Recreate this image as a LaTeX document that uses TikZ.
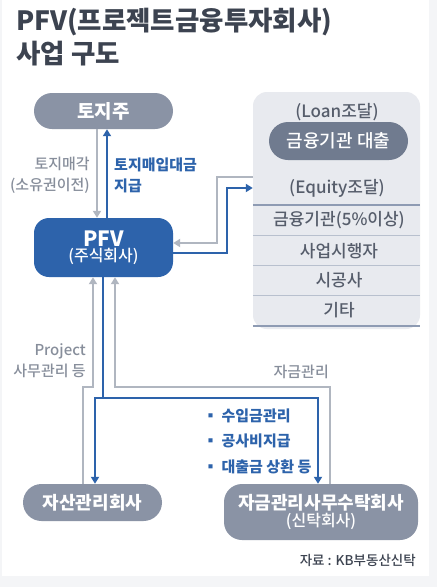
\documentclass[tikz,border=0pt]{standalone}
\usepackage{fontspec}
\setmainfont{Noto Sans CJK KR}
\newfontfamily\med{Noto Sans CJK KR Medium}
\usetikzlibrary{arrows.meta}
\definecolor{titlec}{HTML}{3C4350}
\definecolor{nodegray}{HTML}{8A93A5}
\definecolor{pfvblue}{HTML}{2D63AB}
\definecolor{linegray}{HTML}{B0B6C0}
\definecolor{panelfill}{HTML}{E8EAEF}
\definecolor{pilldark}{HTML}{707B8F}
\definecolor{paneltext}{HTML}{565D6B}
\definecolor{panelline}{HTML}{8E9BB3}
\definecolor{panelthin}{HTML}{B8C0CE}
\definecolor{labelgray}{HTML}{878E9B}
\definecolor{bgc}{HTML}{F4F5F7}
\tikzset{
  pill/.style={fill=nodegray, text=white, font=\bfseries\fontsize{18}{22}\selectfont, inner sep=0pt, align=center},
  grayarrow/.style={draw=linegray, line width=2.3pt, -{Triangle[length=7pt,width=8pt]}},
  bluearrow/.style={draw=pfvblue, line width=2.3pt, -{Triangle[length=7pt,width=8pt]}},
  blueline/.style={draw=pfvblue, line width=2.3pt},
  ptext/.style={text=paneltext, font=\med\fontsize{17}{20}\selectfont, inner sep=0pt},
  glabel/.style={text=labelgray, font=\med\fontsize{15}{21}\selectfont, inner sep=0pt},
  blabel/.style={text=pfvblue, font=\bfseries\fontsize{15}{21}\selectfont, inner sep=0pt},
}
\begin{document}
\begin{tikzpicture}[x=1pt,y=-1pt]
\fill[bgc] (0,0) rectangle (437,587);
\fill[white] (2,0) rectangle (429,576);
\useasboundingbox (0,0) rectangle (437,587);

% title
\node[anchor=north west, text=titlec, font=\bfseries\fontsize{26.5}{33}\selectfont, align=left, inner sep=0pt] (title) at (16,8) {PFV(프로젝트금융투자회사)\\사업 구도};

% main nodes
\node[pill, minimum width=139pt, minimum height=36pt, rounded corners=18pt, font=\bfseries\fontsize{19}{22}\selectfont] (tj) at (103.5,111) {토지주};
\node[fill=pfvblue, text=white, minimum width=139pt, minimum height=59pt, rounded corners=15pt, inner sep=0pt, align=center] (pfv) at (103.5,247.5) {{\bfseries\fontsize{21}{22}\selectfont PFV}\\[1pt]{\med\fontsize{16}{18}\selectfont (주식회사)}};

% panel
\node[fill=panelfill, minimum width=167pt, minimum height=237pt, rounded corners=14pt, inner sep=0pt] (panel) at (336.5,210.5) {};
\node[ptext] (loanlbl) at (337,112) {(Loan조달)};
\node[fill=pilldark, text=white, minimum width=139pt, minimum height=38pt, rounded corners=19pt, inner sep=0pt, font=\med\fontsize{18}{20}\selectfont] (loan) at (338.5,141) {금융기관 대출};
\node[ptext] (eqlbl) at (337,188) {(Equity조달)};
\node[ptext] (eq1) at (339,220) {금융기관(5\%이상)};
\node[ptext] (eq2) at (339,251) {사업시행자};
\node[ptext] (eq3) at (339,280) {시공사};
\node[ptext] (eq4) at (339,310) {기타};
\draw[panelline, line width=1.3pt] (panel.west |- 0,205) -- (panel.east |- 0,205);
\draw[panelthin, line width=1pt] (panel.west |- 0,235) -- (panel.east |- 0,235);
\draw[panelthin, line width=1pt] (panel.west |- 0,265) -- (panel.east |- 0,265);
\draw[panelthin, line width=1pt] (panel.west |- 0,295) -- (panel.east |- 0,295);
\draw[panelline, line width=1.3pt] (panel.west |- 0,326) -- (panel.east |- 0,326);

% bottom nodes
\node[pill, minimum width=139pt, minimum height=37pt, rounded corners=18.5pt] (jasan) at (92.5,502.5) {자산관리회사};
\node[fill=nodegray, text=white, minimum width=194pt, minimum height=56pt, rounded corners=18pt, inner sep=0pt, align=center] (jageum) at (321,512) {{\bfseries\fontsize{18}{20}\selectfont 자금관리사무수탁회사}\\[1pt]{\med\fontsize{16}{18}\selectfont (신탁회사)}};

% top arrows
\draw[grayarrow] ([xshift=-6.5pt]tj.south) -- ([xshift=-6.5pt]pfv.north);
\draw[bluearrow] ([xshift=3.5pt]pfv.north) -- ([xshift=3.5pt]tj.south);
\node[glabel, anchor=east, align=right] (lbl1) at (90,175.5) {토지매각\\(소유권이전)};
\node[blabel, anchor=west, align=left] (lbl2) at (114,175.5) {토지매입대금\\지급};

% panel arrows
\draw[grayarrow] (panel.west |- 0,177) -| (217,243) -- (pfv.east |- 0,243);
\draw[bluearrow] (pfv.east |- 0,253) -| (227,188) -- (panel.west |- 0,188);

% bottom arrows
\draw[grayarrow] (jasan.north -| 83,0) |- (93,387) -- (pfv.south -| 93,0);
\draw[grayarrow] (jageum.north -| 330,0) |- (115,387) -- (pfv.south -| 115,0);
\coordinate (bj) at (103,398);
\draw[blueline] (pfv.south -| 103,0) -- (bj);
\draw[bluearrow] (bj) -| (jasan.north -| 95,0);
\draw[bluearrow] (bj) -| (jageum.north -| 318,0);

\node[glabel, anchor=east, align=right] (lbl3) at (86,361) {Project\\사무관리 등};
\node[glabel, anchor=east] (lbl4) at (329,372) {자금관리};
\node[blabel, anchor=west, align=left, font=\bfseries\fontsize{15}{25.5}\selectfont] (bul) at (203,441) {▪ 수입금관리\\▪ 공사비지급\\▪ 대출금 상환 등};

\node[text=titlec, anchor=east, inner sep=0pt, font=\med\fontsize{13.5}{16}\selectfont] (src) at (416,560) {자료 : KB부동산신탁};
\end{tikzpicture}
\end{document}
